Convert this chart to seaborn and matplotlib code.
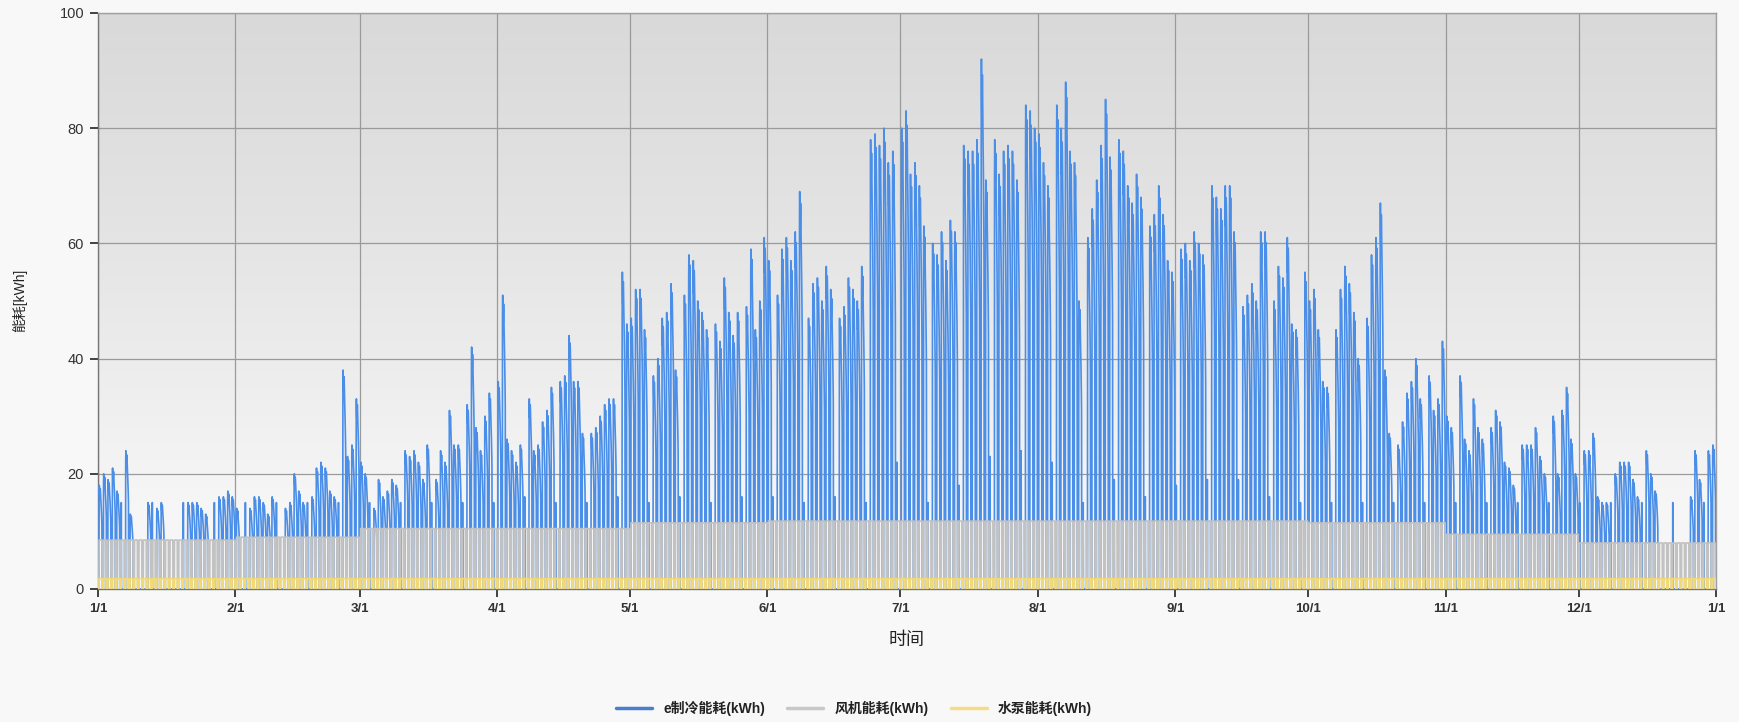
import numpy as np
import pandas as pd
import matplotlib
matplotlib.use("Agg")
import matplotlib.pyplot as plt
from matplotlib.colors import LinearSegmentedColormap
from matplotlib.lines import Line2D
import seaborn as sns

# Daily peak of the cooling plant load, kWh (one row per week, starting 1/1)
COOLING_DAILY_PEAK = [
    18, 20, 19, 21, 17, 15, 24,
    13, 0, 0, 0, 15, 15, 14,
    15, 0, 0, 0, 0, 15, 15,
    15, 15, 14, 13, 0, 15, 16,
    16, 17, 16, 14, 0, 15, 14,
    16, 16, 15, 13, 16, 15, 0,
    14, 15, 20, 17, 15, 15, 16,
    21, 22, 21, 17, 16, 15, 38,
    23, 25, 33, 22, 20, 15, 14,
    19, 16, 17, 19, 18, 15, 24,
    23, 24, 22, 19, 25, 15, 19,
    24, 22, 31, 25, 25, 15, 32,
    42, 28, 24, 30, 34, 15, 36,
    51, 26, 24, 22, 25, 16, 33,
    24, 25, 29, 31, 35, 15, 36,
    37, 44, 36, 36, 27, 15, 27,
    28, 30, 32, 33, 33, 16, 55,
    46, 47, 52, 52, 45, 15, 37,
    40, 47, 48, 53, 38, 16, 51,
    58, 57, 50, 48, 45, 15, 46,
    43, 54, 48, 44, 48, 16, 49,
    59, 45, 50, 61, 57, 16, 51,
    59, 61, 57, 62, 69, 15, 47,
    53, 54, 50, 56, 52, 16, 47,
    49, 54, 52, 50, 56, 15, 78,
    79, 77, 80, 74, 76, 22, 80,
    83, 72, 74, 70, 63, 15, 60,
    58, 62, 57, 64, 62, 18, 77,
    76, 76, 78, 92, 71, 23, 78,
    72, 76, 77, 76, 71, 24, 84,
    83, 80, 79, 74, 70, 22, 84,
    80, 88, 76, 74, 50, 15, 61,
    66, 71, 77, 85, 75, 19, 78,
    76, 70, 67, 72, 68, 16, 63,
    65, 70, 65, 57, 55, 18, 59,
    60, 57, 62, 60, 58, 19, 70,
    68, 66, 70, 70, 62, 19, 49,
    51, 53, 50, 62, 62, 16, 50,
    56, 54, 61, 46, 45, 15, 55,
    50, 52, 45, 36, 35, 15, 45,
    52, 56, 53, 48, 40, 15, 47,
    58, 61, 67, 38, 27, 15, 25,
    29, 34, 36, 40, 33, 15, 37,
    31, 33, 43, 30, 28, 15, 37,
    26, 24, 33, 28, 26, 15, 28,
    31, 29, 22, 21, 18, 15, 25,
    25, 25, 28, 23, 20, 15, 30,
    20, 31, 35, 26, 20, 15, 24,
    24, 27, 16, 15, 15, 15, 20,
    22, 22, 22, 19, 16, 15, 24,
    20, 17, 0, 0, 0, 15, 0,
    0, 0, 16, 24, 19, 15, 24,
    25,
]

# Fan load level per month, kWh
FAN_MONTHLY_LEVEL = [8.5, 9.0, 10.5, 10.5, 11.5, 11.8, 11.8, 11.8, 11.8, 11.5, 9.5, 8.0]
# Pump load while running, kWh
PUMP_LEVEL = 1.8

MONTH_DAYS = [31, 28, 31, 30, 31, 30, 31, 31, 30, 31, 30, 31]
MONTH_LABELS = ["1/1", "2/1", "3/1", "4/1", "5/1", "6/1", "7/1",
                "8/1", "9/1", "10/1", "11/1", "12/1", "1/1"]
SERIES_NAMES = ["e制冷能耗(kWh)", "风机能耗(kWh)", "水泵能耗(kWh)"]
SERIES_COLORS = ["#4a8ee8", "#c2c2c2", "#f2d977"]
LEGEND_COLORS = ["#4a7fcc", "#c8c8c8", "#f4dd88"]

# Hourly shape of the cooling load over a full operating day (fraction of the daily peak)
DAY_SHAPE = [0.93, 1.0, 0.94, 0.90, 0.91, 0.94, 0.97, 0.95, 0.90,
             0.87, 0.84, 0.80, 0.77, 0.73, 0.68, 0.62]
OPEN_HOUR = 6
SHORT_DAY_WEEKDAY = 5  # reduced-operation day in each week (day index mod 7)

# ---- hourly series ---------------------------------------------------------
n_days = len(COOLING_DAILY_PEAK)
n_hours = n_days * 24
cool = np.zeros(n_hours)
fan = np.zeros(n_hours)
pump = np.zeros(n_hours)
day_month = np.repeat(np.arange(12), MONTH_DAYS)
run = len(DAY_SHAPE)
for d, peak in enumerate(COOLING_DAILY_PEAK):
    start = d * 24 + OPEN_HOUR
    if d % 7 == SHORT_DAY_WEEKDAY:
        cool[start] = peak
    else:
        cool[start:start + run] = peak * np.array(DAY_SHAPE)
    fan[start:start + run] = FAN_MONTHLY_LEVEL[day_month[d]]
    pump[start:start + run] = PUMP_LEVEL

hours = np.arange(n_hours)
df = pd.concat([
    pd.DataFrame({"hour": hours, "value": cool, "series": SERIES_NAMES[0]}),
    pd.DataFrame({"hour": hours, "value": fan, "series": SERIES_NAMES[1]}),
    pd.DataFrame({"hour": hours, "value": pump, "series": SERIES_NAMES[2]}),
], ignore_index=True)

# ---- figure ----------------------------------------------------------------
sns.set_theme(style="ticks")
plt.rcParams["font.family"] = ["Liberation Sans", "Noto Sans CJK SC", "DejaVu Sans"]

fig = plt.figure(figsize=(17.4, 7.22), dpi=100, facecolor="#f8f8f8")
ax = fig.add_axes([98 / 1740, 1 - 589 / 722, (1716 - 98) / 1740, (589 - 13) / 722])

# vertical gradient backdrop of the plot area
grad_cmap = LinearSegmentedColormap.from_list(
    "bg", [(0.0, "#f8f8f8"), (0.15, "#f6f6f6"), (0.35, "#eeeeee"),
           (0.65, "#e3e3e3"), (1.0, "#d9d9d9")])
grad = np.linspace(0, 1, 256).reshape(-1, 1)
ax.imshow(grad, extent=[0, n_hours, 0, 100], origin="lower", aspect="auto",
          cmap=grad_cmap, zorder=0, interpolation="bicubic")

sns.lineplot(data=df, x="hour", y="value", hue="series", hue_order=SERIES_NAMES,
             palette=SERIES_COLORS, estimator=None, linewidth=1.2, legend=False,
             ax=ax, zorder=3)

ax.set_xlim(0, n_hours)
ax.set_ylim(0, 100)
month_start = np.concatenate([[0], np.cumsum(MONTH_DAYS)]) * 24
ax.set_xticks(month_start)
ax.set_xticklabels(MONTH_LABELS, fontsize=9.5, fontweight="bold", color="#333333")
ax.set_yticks(np.arange(0, 101, 20))
ax.set_yticklabels([str(v) for v in range(0, 101, 20)], fontsize=10.5, color="#333333")
ax.grid(True, color="#9a9a9a", linewidth=0.9, zorder=1)
ax.set_axisbelow(True)
for side in ["top", "right"]:
    ax.spines[side].set_color("#a0a0a0")
    ax.spines[side].set_linewidth(1.0)
for side in ["left", "bottom"]:
    ax.spines[side].set_color("#777777")
    ax.spines[side].set_linewidth(1.0)
ax.tick_params(axis="both", direction="out", length=6, width=1.3, color="#333333", pad=4)
ax.set_xlabel("")
ax.set_ylabel("")

fig.text(20 / 1740, 1 - 300 / 722, "能耗[kWh]", rotation=90, ha="center", va="center",
         fontsize=10, color="#222222")
fig.text(907 / 1740, 1 - 641 / 722, "时间", ha="center", va="center",
         fontsize=13, color="#222222")

handles = [Line2D([], [], color=c, linewidth=2.5) for c in LEGEND_COLORS]
fig.legend(handles, SERIES_NAMES, loc="center", bbox_to_anchor=(854 / 1740, 1 - 708 / 722),
           ncol=3, frameon=False, handlelength=2.6, columnspacing=1.6,
           prop={"size": 10, "weight": "bold"}, labelcolor="#222222")

fig.savefig("out.png", dpi=100, facecolor=fig.get_facecolor())
